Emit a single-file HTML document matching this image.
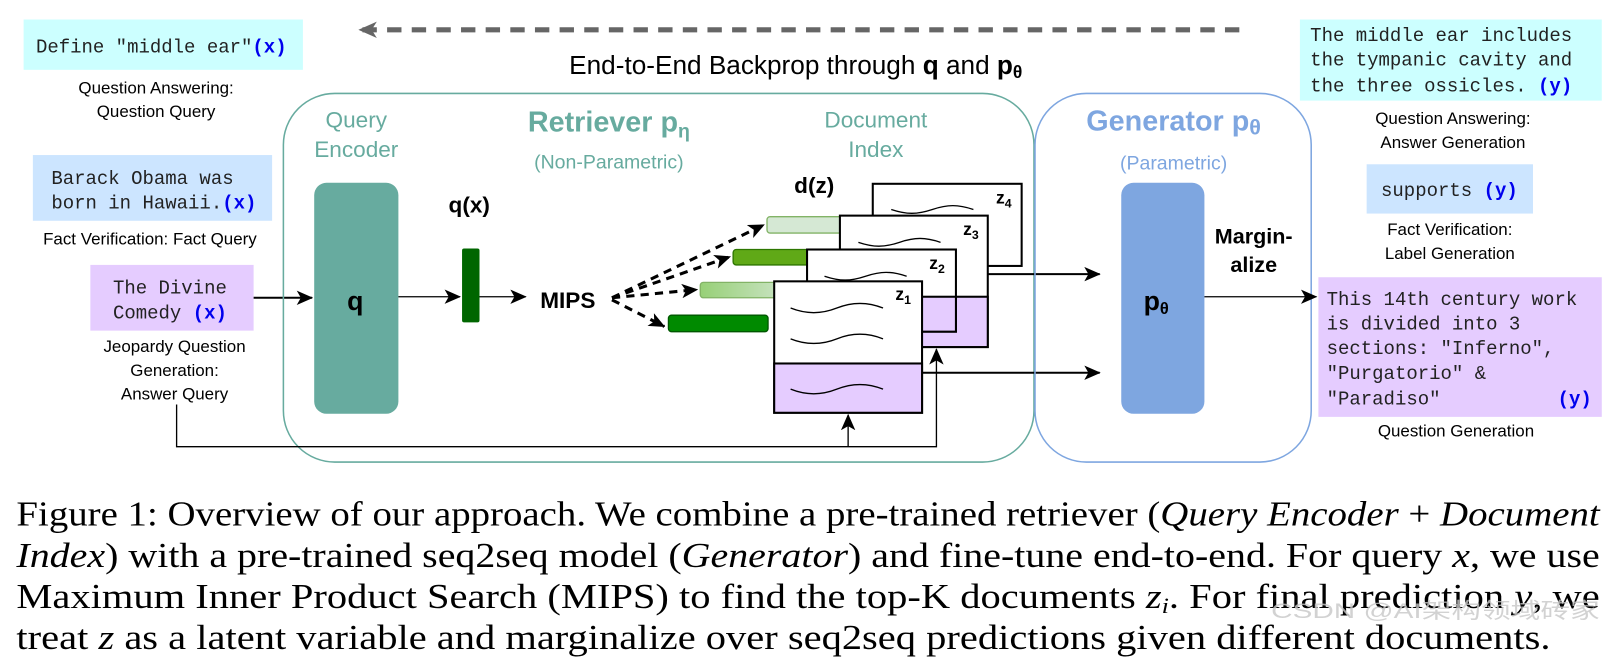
<!DOCTYPE html>
<html><head><meta charset="utf-8"><style>
html,body{margin:0;padding:0;background:#fff;}
svg{display:block;}
.s{font-family:"Liberation Sans",Arial,sans-serif;}
.m{font-family:"Liberation Mono","Courier New",monospace;font-size:18.5px;fill:#222;}
.x{fill:#0000ee;font-weight:bold;}
.c{font-family:"Liberation Serif","Times New Roman",serif;font-size:34px;fill:#000;}
</style></head><body>
<svg width="1610" height="667" viewBox="0 0 1568 649.6" preserveAspectRatio="none" xmlns="http://www.w3.org/2000/svg">
<defs>
<marker id="b" markerWidth="16" markerHeight="14" refX="15" refY="7" orient="auto" markerUnits="userSpaceOnUse"><path d="M0,0 L16,7 L0,14 L4,7 z" fill="#000"/></marker>
<marker id="g" markerWidth="18" markerHeight="16" refX="17" refY="8" orient="auto" markerUnits="userSpaceOnUse"><path d="M0,0 L18,8 L0,16 L5,8 z" fill="#666"/></marker>
<linearGradient id="gr" x1="0" x2="1"><stop offset="0" stop-color="#97d077"/><stop offset="1" stop-color="#d5e8d4"/></linearGradient>
</defs>

<line x1="1207" y1="29" x2="350" y2="29" stroke="#666" stroke-width="5" stroke-dasharray="14 10" marker-end="url(#g)"/>
<text x="775" y="72" class="s" font-size="25.5" text-anchor="middle">End-to-End Backprop through <tspan font-weight="bold">q</tspan> and <tspan font-weight="bold">p<tspan font-size="17" dy="4">θ</tspan></tspan></text>

<rect x="23" y="19" width="272" height="49" fill="#ccffff"/>
<text x="35" y="51" class="m">Define "middle ear"<tspan class="x">(x)</tspan></text>
<text x="152" y="91" class="s" font-size="16.5" text-anchor="middle">Question Answering:</text>
<text x="152" y="114" class="s" font-size="16.5" text-anchor="middle">Question Query</text>

<rect x="32" y="151" width="233" height="64" fill="#cce5ff"/>
<text x="50" y="179" class="m">Barack Obama was</text>
<text x="50" y="203" class="m">born in Hawaii.<tspan class="x">(x)</tspan></text>
<text x="146" y="238" class="s" font-size="16.5" text-anchor="middle">Fact Verification: Fact Query</text>

<rect x="88" y="258" width="159" height="64" fill="#e5ccff"/>
<text x="110" y="286" class="m">The Divine</text>
<text x="110" y="310" class="m">Comedy <tspan class="x">(x)</tspan></text>
<text x="170" y="343" class="s" font-size="16.5" text-anchor="middle">Jeopardy Question</text>
<text x="170" y="366" class="s" font-size="16.5" text-anchor="middle">Generation:</text>
<text x="170" y="389" class="s" font-size="16.5" text-anchor="middle">Answer Query</text>
<line x1="247" y1="290" x2="304" y2="290" stroke="#000" stroke-width="2" marker-end="url(#b)"/>

<rect x="276" y="91" width="731" height="359" rx="50" fill="none" stroke="#67ab9f" stroke-width="1.5"/>
<text x="347" y="124" class="s" font-size="22" fill="#67ab9f" text-anchor="middle">Query</text>
<text x="347" y="153" class="s" font-size="22" fill="#67ab9f" text-anchor="middle">Encoder</text>
<text x="593" y="128" class="s" font-size="28" font-weight="bold" fill="#67ab9f" text-anchor="middle">Retriever p<tspan font-size="19" dy="6">η</tspan></text>
<text x="593" y="164" class="s" font-size="19" fill="#67ab9f" text-anchor="middle">(Non-Parametric)</text>
<text x="853" y="124" class="s" font-size="22" fill="#67ab9f" text-anchor="middle">Document</text>
<text x="853" y="153" class="s" font-size="22" fill="#67ab9f" text-anchor="middle">Index</text>

<rect x="306" y="178" width="82" height="225" rx="12" fill="#67ab9f"/>
<text x="346" y="302" class="s" font-size="26" font-weight="bold" text-anchor="middle">q</text>
<line x1="388" y1="289" x2="448" y2="289" stroke="#000" stroke-width="1.3" marker-end="url(#b)"/>
<text x="457" y="207" class="s" font-size="22" font-weight="bold" text-anchor="middle">q(x)</text>
<rect x="450" y="242" width="17" height="72" rx="2" fill="#006600"/>
<line x1="467" y1="289" x2="512" y2="289" stroke="#000" stroke-width="1.3" marker-end="url(#b)"/>
<text x="553" y="300" class="s" font-size="22" font-weight="bold" text-anchor="middle">MIPS</text>

<g stroke="#000" stroke-width="3" stroke-dasharray="8 6" fill="none">
<line x1="596" y1="290" x2="744" y2="219" marker-end="url(#b)"/>
<line x1="596" y1="290" x2="711" y2="250" marker-end="url(#b)"/>
<line x1="596" y1="290" x2="679" y2="282" marker-end="url(#b)"/>
<line x1="596" y1="292" x2="647" y2="318" marker-end="url(#b)"/>
</g>

<rect x="747" y="211" width="100" height="16" rx="3" fill="#d5e8d4" stroke="#82b366" stroke-width="1.3"/>
<rect x="714" y="243" width="100" height="15" rx="3" fill="#60a917" stroke="#2d7600" stroke-width="1.3"/>
<rect x="682" y="275" width="100" height="15" rx="3" fill="url(#gr)" stroke="#82b366" stroke-width="1.3"/>
<rect x="651" y="307" width="97" height="16" rx="3" fill="#008a00" stroke="#005700" stroke-width="1.3"/>

<text x="793" y="188" class="s" font-size="22" font-weight="bold" text-anchor="middle">d(z)</text>

<g stroke="#000" stroke-width="2">
<rect x="850" y="179" width="145" height="80" fill="#fff"/>
<rect x="818" y="210" width="144" height="128" fill="#fff"/>
<rect x="818" y="289" width="144" height="49" fill="#e5ccff"/>
<rect x="786" y="243" width="145" height="80" fill="#fff"/>
<rect x="786" y="289" width="145" height="34" fill="#e5ccff"/>
<rect x="754" y="274" width="144" height="128" fill="#fff"/>
<rect x="754" y="354" width="144" height="48" fill="#e5ccff"/>
</g>
<g stroke="#000" stroke-width="1.3" fill="none">
<path d="M868,204 c15,5 25,5 40,0 s25,-5 40,0"/>
<path d="M836,236 c15,5 25,5 40,0 s25,-5 40,0"/>
<path d="M803,269 c15,5 25,5 40,0 s25,-5 40,0"/>
<path d="M770,300 c15,6 30,6 45,0 s30,-6 45,0"/>
<path d="M770,330 c15,6 30,6 45,0 s30,-6 45,0"/>
<path d="M770,379 c15,6 30,6 45,0 s30,-6 45,0"/>
</g>
<g class="s" font-weight="bold" font-size="17">
<text x="872" y="292">z<tspan font-size="12" dy="4">1</tspan></text>
<text x="905" y="262">z<tspan font-size="12" dy="4">2</tspan></text>
<text x="938" y="229">z<tspan font-size="12" dy="4">3</tspan></text>
<text x="970" y="198">z<tspan font-size="12" dy="4">4</tspan></text>
</g>

<line x1="962" y1="267" x2="1071" y2="267" stroke="#000" stroke-width="2" marker-end="url(#b)"/>
<line x1="898" y1="363" x2="1071" y2="363" stroke="#000" stroke-width="2" marker-end="url(#b)"/>
<polyline points="172,394 172,435 912,435 912,340" fill="none" stroke="#000" stroke-width="1.3" marker-end="url(#b)"/>
<line x1="826" y1="435" x2="826" y2="404" stroke="#000" stroke-width="1.3" marker-end="url(#b)"/>

<rect x="1008" y="91" width="269" height="359" rx="50" fill="none" stroke="#7ea6e0" stroke-width="1.5"/>
<text x="1143" y="127" class="s" font-size="28" font-weight="bold" fill="#7ea6e0" text-anchor="middle">Generator p<tspan font-size="21" dy="4">θ</tspan></text>
<text x="1143" y="165" class="s" font-size="19" fill="#7ea6e0" text-anchor="middle">(Parametric)</text>
<rect x="1092" y="178" width="81" height="225" rx="12" fill="#7ea6e0"/>
<text x="1126" y="302" class="s" font-size="26" font-weight="bold" text-anchor="middle">p<tspan font-size="16" dy="4">θ</tspan></text>
<text x="1221" y="237" class="s" font-size="21" font-weight="bold" text-anchor="middle">Margin-</text>
<text x="1221" y="265" class="s" font-size="21" font-weight="bold" text-anchor="middle">alize</text>
<line x1="1173" y1="289" x2="1282" y2="289" stroke="#000" stroke-width="1.3" marker-end="url(#b)"/>

<rect x="1266" y="19" width="294" height="79" fill="#ccffff"/>
<text x="1276" y="40" class="m">The middle ear includes</text>
<text x="1276" y="64" class="m">the tympanic cavity and</text>
<text x="1276" y="89" class="m">the three ossicles.  <tspan class="x">(y)</tspan></text>
<text x="1415" y="121" class="s" font-size="16.5" text-anchor="middle">Question Answering:</text>
<text x="1415" y="144" class="s" font-size="16.5" text-anchor="middle">Answer Generation</text>

<rect x="1331" y="160" width="162" height="48" fill="#cce5ff"/>
<text x="1345" y="191" class="m">supports <tspan class="x">(y)</tspan></text>
<text x="1412" y="229" class="s" font-size="16.5" text-anchor="middle">Fact Verification:</text>
<text x="1412" y="252" class="s" font-size="16.5" text-anchor="middle">Label Generation</text>

<rect x="1284" y="270" width="276" height="136" fill="#e5ccff"/>
<text x="1292" y="297" class="m">This 14th century work</text>
<text x="1292" y="321" class="m">is divided into 3</text>
<text x="1292" y="345" class="m">sections: "Inferno",</text>
<text x="1292" y="369" class="m">"Purgatorio" &amp;</text>
<text x="1292" y="394" class="m">"Paradiso"</text>
<text x="1517" y="394" class="m x">(y)</text>
<text x="1418" y="425" class="s" font-size="16.5" text-anchor="middle">Question Generation</text>

<text x="16" y="512" class="c" textLength="1542" lengthAdjust="spacingAndGlyphs">Figure 1: Overview of our approach. We combine a pre-trained retriever (<tspan font-style="italic">Query Encoder</tspan> + <tspan font-style="italic">Document</tspan></text>
<text x="16" y="552" class="c" textLength="1542" lengthAdjust="spacingAndGlyphs"><tspan font-style="italic">Index</tspan>) with a pre-trained seq2seq model (<tspan font-style="italic">Generator</tspan>) and fine-tune end-to-end. For query <tspan font-style="italic">x</tspan>, we use</text>
<text x="16" y="592" class="c" textLength="1542" lengthAdjust="spacingAndGlyphs">Maximum Inner Product Search (MIPS) to find the top-K documents <tspan font-style="italic">z</tspan><tspan font-style="italic" font-size="22" dy="5">i</tspan><tspan dy="-5">. For final prediction </tspan><tspan font-style="italic">y</tspan>, we</text>
<text x="16" y="632" class="c" textLength="1494" lengthAdjust="spacingAndGlyphs">treat <tspan font-style="italic">z</tspan> as a latent variable and marginalize over seq2seq predictions given different documents.</text>
<text x="1238" y="602" font-family="Liberation Sans, Noto Sans CJK SC, sans-serif" font-size="21" fill="#c8c8c8" opacity="0.8" textLength="320" lengthAdjust="spacingAndGlyphs">CSDN @AI架构领域砖家</text>
</svg>
</body></html>
